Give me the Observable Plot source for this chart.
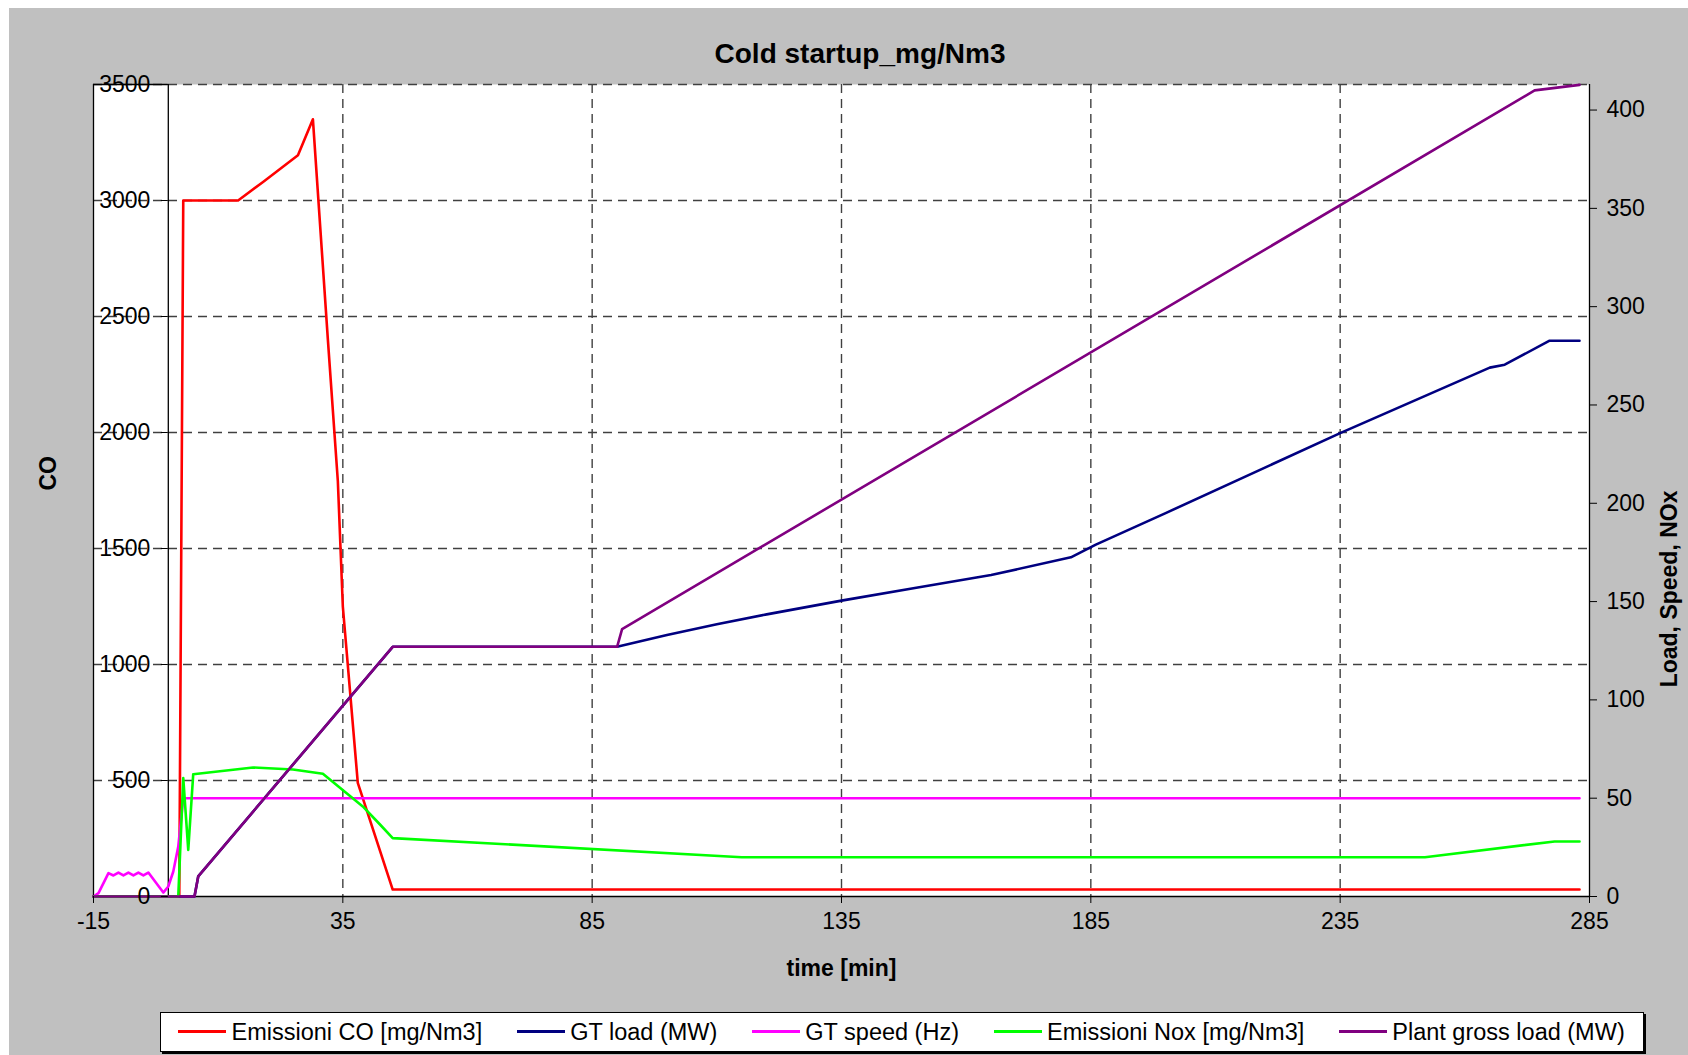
<!DOCTYPE html>
<html><head><meta charset="utf-8">
<script src="https://cdn.jsdelivr.net/npm/d3@7"></script>
<script src="https://cdn.jsdelivr.net/npm/@observablehq/plot@0.6"></script>
<style>
html,body{margin:0;padding:0;background:#fff;width:1688px;height:1055px;overflow:hidden;font-family:"Liberation Sans",Arial,sans-serif;}
#bg{position:absolute;left:9px;top:8px;width:1679px;height:1047px;background:#c0c0c0;}
#title{position:absolute;left:460px;width:800px;top:38px;text-align:center;font-weight:bold;font-size:28px;line-height:32px;color:#000;}
#chart{position:absolute;left:0;top:0;}
#legend{position:absolute;left:160px;top:1012px;width:1482px;height:38px;background:#fff;border:1px solid #000;box-shadow:2px 2px 0 #000;}
.sw{position:absolute;height:3px;width:48px;top:17px}
.lt{position:absolute;font-size:23.5px;line-height:26px;top:6px;white-space:nowrap;color:#000}
</style>
</head>
<body>
<div id="bg"></div>
<div id="title">Cold startup_mg/Nm3</div>
<div id="chart"></div>
<div id="legend"></div>
<script>
// ---------- DATA ----------
const seriesNames = ["Emissioni CO [mg/Nm3]", "GT load (MW)", "GT speed (Hz)", "Emissioni Nox [mg/Nm3]", "Plant gross load (MW)"];
const seriesColors = ["#ff0000", "#000080", "#ff00ff", "#00ff00", "#800080"];

// Emissioni CO (left axis)
const coTime = [-15, 2.2, 3, 14, 19, 26, 29, 32, 34, 35, 38, 45, 283];
const coVal  = [0, 0, 3000, 3000, 3080, 3195, 3350, 2400, 1790, 1250, 490, 30, 30];

// GT load (right axis)
const gtTime = [-15, 5.25, 6, 45, 90, 100, 110, 120, 135, 150, 165, 181, 186, 200, 235, 265, 268, 277, 283];
const gtVal  = [0, 0, 10.2, 127, 127, 133, 138.5, 143.5, 150.5, 157, 163.5, 172.5, 179, 195, 235.7, 269, 270.5, 282.7, 282.7];

// GT speed (right axis)
const speedTime = [-15, -14, -12, -11, -10, -9, -8, -7, -6, -5, -4, -1, 0, 1, 2, 3, 283];
const speedVal  = [0, 1.7, 11.9, 10.7, 12.2, 10.7, 12.2, 10.7, 12.2, 10.7, 12.2, 2, 5.1, 12.7, 25.4, 50, 50];

// Emissioni NOx (right axis)
const noxTime = [-15, 2, 3, 4, 5, 17, 25, 31, 39, 42.5, 45, 115, 252, 278, 283];
const noxVal  = [0, 0, 60.2, 23.7, 62.2, 65.6, 64.6, 62.4, 45.8, 36.5, 29.7, 20, 20, 28, 28];

// Plant gross load (right axis)
const plantTime = [-15, 5.25, 6, 45, 90, 91, 274, 283];
const plantVal  = [0, 0, 10.2, 127, 127, 136, 410, 412.8];

// Axes
const xTicks = [-15, 35, 85, 135, 185, 235, 285];
const coTicks = [0, 500, 1000, 1500, 2000, 2500, 3000, 3500];
const rightTicks = [0, 50, 100, 150, 200, 250, 300, 350, 400];
const X_DOMAIN = [-15, 285];
const CO_DOMAIN = [0, 3500];
const RIGHT_MAX = 413;

// ---------- LAYOUT ----------
const W = 1688, H = 1000, ML = 93, MR = 99, MT = 84, MB = 104;
const k = CO_DOMAIN[1] / RIGHT_MAX;
const plotW = W - ML - MR;
const axisShift = (0 - X_DOMAIN[0]) / (X_DOMAIN[1] - X_DOMAIN[0]) * plotW;
const gridStyle = {stroke: "#404040", strokeOpacity: 1, strokeWidth: 1.4, strokeDasharray: "9,6"};

const mkLine = (t, v, color, scale) => Plot.line(v, {
  x: t, y: v.map(d => d * scale), stroke: color, strokeWidth: 2.6,
  strokeLinejoin: "round", strokeLinecap: "round"
});

const chart = Plot.plot({
  width: W, height: H,
  marginLeft: ML, marginRight: MR, marginTop: MT, marginBottom: MB,
  style: {fontFamily: "'Liberation Sans', Arial, sans-serif", fontSize: "23px", background: "transparent", color: "#000", overflow: "visible"},
  x: {domain: X_DOMAIN, label: null},
  y: {domain: CO_DOMAIN, label: null},
  marks: [
    Plot.frame({fill: "white", stroke: "none"}),
    Plot.gridX(xTicks.slice(1, -1), gridStyle),
    Plot.gridY(coTicks.slice(1), gridStyle),
    Plot.ruleX([X_DOMAIN[0], 0, X_DOMAIN[1]], {stroke: "#000", strokeWidth: 1.3}),
    Plot.ruleY([0], {stroke: "#000", strokeWidth: 1.3}),
    Plot.ruleY([CO_DOMAIN[1]], {x1: X_DOMAIN[0], x2: 0, stroke: "#000", strokeWidth: 1.3}),
    mkLine(coTime, coVal, seriesColors[0], 1),
    mkLine(gtTime, gtVal, seriesColors[1], k),
    mkLine(speedTime, speedVal, seriesColors[2], k),
    mkLine(noxTime, noxVal, seriesColors[3], k),
    mkLine(plantTime, plantVal, seriesColors[4], k),
    Plot.axisX(xTicks, {tickSize: 7, label: null, tickFormat: () => ""}),
    Plot.text(xTicks, {x: d => d, text: d => String(d), frameAnchor: "bottom", dy: 32, fontSize: 23}),
    Plot.axisY(coTicks, {anchor: "left", dx: axisShift, tickSize: 7, tickPadding: 11, label: null, tickFormat: d => String(d)}),
    Plot.axisY(rightTicks.map(v => v * k), {anchor: "right", tickSize: 7, tickPadding: 10, label: null, tickFormat: d => String(Math.round(d / k))}),
    Plot.text(["time [min]"], {text: d => d, frameAnchor: "bottom", dy: 79, fontWeight: "bold", fontSize: 23}),
    Plot.text(["CO"], {text: d => d, frameAnchor: "left", dx: -45, rotate: -90, fontWeight: "bold", fontSize: 23}),
    Plot.text(["Load, Speed, NOx"], {text: d => d, frameAnchor: "right", dx: 80, rotate: -90, fontWeight: "bold", fontSize: 23})
  ]
});
document.getElementById("chart").appendChild(chart);

// ---------- LEGEND ----------
const legend = document.getElementById("legend");
let xpos = 17;
seriesNames.forEach((name, i) => {
  const sw = document.createElement("div");
  sw.className = "sw";
  sw.style.left = xpos + "px";
  sw.style.background = seriesColors[i];
  legend.appendChild(sw);
  xpos += 53.5;
  const t = document.createElement("div");
  t.className = "lt";
  t.style.left = xpos + "px";
  t.textContent = name;
  legend.appendChild(t);
  xpos += t.getBoundingClientRect().width + 34.5;
});
</script>
</body></html>
